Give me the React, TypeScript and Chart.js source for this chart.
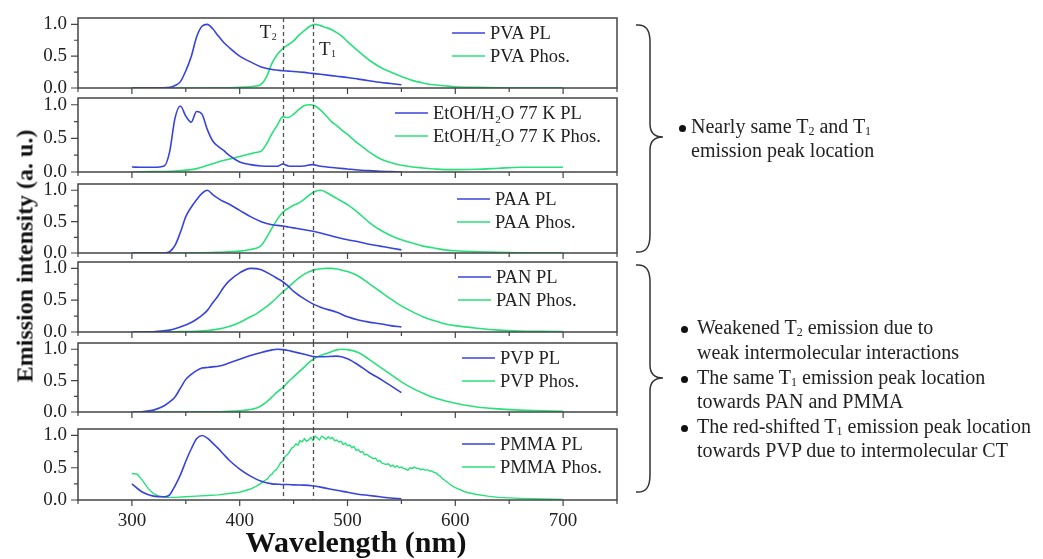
import React, { useEffect, useRef } from "react";
import { Chart, registerables } from "chart.js";
Chart.register(...registerables);

// ---------- data ----------
const PL_WL = [300, 310, 320, 330, 335, 340, 345, 350, 355, 360, 365, 370, 375, 380, 385, 390, 400, 410, 420, 430, 435, 440, 445, 450, 460, 467, 475, 490, 500, 510, 520, 530, 540, 550];
const PH_WL = [300, 320, 340, 360, 380, 390, 400, 410, 415, 420, 425, 430, 435, 440, 445, 450, 455, 460, 465, 470, 475, 480, 485, 490, 495, 500, 510, 520, 530, 540, 550, 560, 570, 580, 590, 600, 620, 640, 660, 680, 700];
const PMMA_PH_WL = [300, 305, 310, 315, 320, 325, 330, 340, 350, 360, 370, 380, 390, 400, 410, 416,
  420, 422, 424, 426, 428, 430, 432, 434, 436, 438, 440, 442, 444, 446, 448, 450, 452, 454, 456, 458,
  460, 462, 464, 466, 468, 470, 472, 474, 476, 478, 480, 482, 484, 486, 488, 490, 492, 494, 496, 498,
  500, 502, 504, 506, 508, 510, 512, 514, 516, 518, 520, 522, 524, 526, 528, 530, 532, 534, 536, 538,
  540, 542, 544, 546, 548, 550, 552, 554, 556, 558, 560, 562, 564, 566, 568, 570, 572, 574, 576, 578,
  580, 582, 584, 586, 588, 590, 592, 594, 596, 598, 600, 610, 620, 630, 640, 660, 680, 700];

const PVA_PL = [0, 0, 0, 0.005, 0.01, 0.04, 0.1, 0.27, 0.49, 0.8, 0.97, 1.0, 0.93, 0.82, 0.72, 0.64, 0.5, 0.41, 0.33, 0.29, 0.28, 0.27, 0.265, 0.26, 0.245, 0.23, 0.215, 0.185, 0.165, 0.14, 0.115, 0.09, 0.07, 0.05];
const PVA_PH = [0, 0, 0, 0, 0.003, 0.005, 0.01, 0.02, 0.03, 0.06, 0.18, 0.39, 0.53, 0.62, 0.68, 0.74, 0.83, 0.9, 0.97, 1.0, 0.98, 0.95, 0.92, 0.87, 0.81, 0.73, 0.58, 0.44, 0.33, 0.25, 0.18, 0.12, 0.08, 0.05, 0.035, 0.02, 0.01, 0.005, 0.003, 0.002, 0.002];

const ETOH_PL = [0.075, 0.07, 0.07, 0.09, 0.3, 0.8, 0.98, 0.83, 0.74, 0.9, 0.86, 0.63, 0.46, 0.38, 0.32, 0.25, 0.15, 0.11, 0.09, 0.085, 0.085, 0.12, 0.09, 0.085, 0.09, 0.11, 0.085, 0.06, 0.045, 0.03, 0.02, 0.01, 0.005, 0];
const ETOH_PH = [0, 0.005, 0.015, 0.05, 0.15, 0.19, 0.23, 0.27, 0.29, 0.31, 0.42, 0.57, 0.7, 0.82, 0.81, 0.86, 0.93, 0.99, 1.0, 0.98, 0.92, 0.84, 0.75, 0.69, 0.62, 0.56, 0.42, 0.3, 0.2, 0.14, 0.1, 0.075, 0.06, 0.045, 0.035, 0.035, 0.04, 0.055, 0.07, 0.07, 0.07];

const PAA_PL = [0, 0, 0, 0, 0.02, 0.12, 0.33, 0.58, 0.73, 0.85, 0.95, 1.0, 0.93, 0.87, 0.82, 0.78, 0.68, 0.58, 0.5, 0.45, 0.44, 0.43, 0.415, 0.4, 0.37, 0.35, 0.32, 0.25, 0.21, 0.18, 0.14, 0.11, 0.08, 0.05];
const PAA_PH = [0, 0, 0, 0.003, 0.01, 0.02, 0.03, 0.055, 0.075, 0.12, 0.25, 0.4, 0.54, 0.65, 0.71, 0.76, 0.8, 0.86, 0.93, 0.98, 1.0, 0.97, 0.92, 0.87, 0.82, 0.77, 0.64, 0.49, 0.37, 0.28, 0.21, 0.16, 0.11, 0.08, 0.05, 0.035, 0.02, 0.01, 0.005, 0.003, 0.003];

const PAN_PL = [0, 0, 0.005, 0.02, 0.03, 0.05, 0.08, 0.11, 0.15, 0.2, 0.26, 0.34, 0.46, 0.57, 0.7, 0.8, 0.93, 1.0, 0.98, 0.89, 0.84, 0.79, 0.72, 0.64, 0.52, 0.45, 0.39, 0.31, 0.24, 0.19, 0.155, 0.13, 0.1, 0.08];
const PAN_PH = [0, 0.002, 0.005, 0.01, 0.045, 0.085, 0.15, 0.24, 0.28, 0.34, 0.4, 0.47, 0.55, 0.63, 0.7, 0.78, 0.85, 0.91, 0.95, 0.98, 0.995, 1.0, 1.0, 0.99, 0.97, 0.95, 0.88, 0.76, 0.64, 0.52, 0.41, 0.32, 0.24, 0.18, 0.13, 0.1, 0.06, 0.03, 0.015, 0.01, 0.008];

const PVP_PL = [0, 0.005, 0.03, 0.1, 0.16, 0.24, 0.38, 0.52, 0.6, 0.66, 0.7, 0.71, 0.72, 0.73, 0.75, 0.78, 0.84, 0.9, 0.95, 0.99, 1.0, 0.995, 0.98, 0.96, 0.92, 0.89, 0.88, 0.89, 0.85, 0.75, 0.63, 0.53, 0.42, 0.31];
const PVP_PH = [0, 0, 0, 0.002, 0.005, 0.01, 0.02, 0.04, 0.06, 0.1, 0.16, 0.24, 0.32, 0.39, 0.48, 0.56, 0.64, 0.72, 0.8, 0.86, 0.9, 0.93, 0.96, 0.99, 1.0, 0.995, 0.95, 0.84, 0.72, 0.6, 0.48, 0.38, 0.3, 0.23, 0.18, 0.14, 0.08, 0.05, 0.03, 0.02, 0.01];

const PMMA_PL = [0.25, 0.12, 0.06, 0.05, 0.08, 0.22, 0.39, 0.6, 0.79, 0.95, 1.0, 0.96, 0.88, 0.8, 0.71, 0.62, 0.48, 0.37, 0.29, 0.25, 0.245, 0.24, 0.24, 0.235, 0.23, 0.22, 0.2, 0.15, 0.12, 0.09, 0.07, 0.05, 0.03, 0.02];
const PMMA_PH = [0.41, 0.4, 0.3, 0.18, 0.1, 0.06, 0.04, 0.04, 0.05, 0.06, 0.07, 0.08, 0.1, 0.12, 0.17, 0.22,
  0.26, 0.29, 0.31, 0.33, 0.38, 0.4, 0.45, 0.47, 0.52, 0.58, 0.6, 0.67, 0.7, 0.74, 0.8, 0.82, 0.87, 0.85, 0.92, 0.9,
  0.95, 0.91, 0.93, 0.97, 0.92, 0.99, 0.96, 0.93, 0.99, 0.97, 0.94, 0.98, 0.95, 0.97, 0.92, 0.93, 0.9, 0.91, 0.86, 0.88,
  0.84, 0.85, 0.81, 0.83, 0.77, 0.78, 0.74, 0.75, 0.7, 0.71, 0.68, 0.66, 0.64, 0.65, 0.6, 0.61, 0.57, 0.56, 0.55, 0.56,
  0.52, 0.54, 0.51, 0.53, 0.5, 0.51, 0.49, 0.48, 0.46, 0.5, 0.49, 0.51, 0.49, 0.49, 0.47, 0.48, 0.46, 0.47, 0.45, 0.45,
  0.43, 0.42, 0.39, 0.37, 0.33, 0.31, 0.28, 0.26, 0.23, 0.21, 0.19, 0.12, 0.085, 0.06, 0.04, 0.025, 0.015, 0.01];

const SAMPLE_NAMES = ["PVA", "EtOH/H\u2082O 77 K", "PAA", "PAN", "PVP", "PMMA"];
const PL_SERIES = [PVA_PL, ETOH_PL, PAA_PL, PAN_PL, PVP_PL, PMMA_PL];
const PH_SERIES = [PVA_PH, ETOH_PH, PAA_PH, PAN_PH, PVP_PH, PMMA_PH];
const PH_GRIDS = [PH_WL, PH_WL, PH_WL, PH_WL, PH_WL, PMMA_PH_WL];

const X_TICKS = [300, 400, 500, 600, 700];
const X_MINOR = [250, 350, 450, 550, 650, 750];
const Y_TICKS = [0, 0.5, 1.0];
const Y_MINOR = [0.25, 0.75];
const T2_WL = 440;
const T1_WL = 468;

// ---------- layout / style ----------
const PANEL_TOP = [18, 98, 184, 262, 343, 429];
const PANEL_BOTTOM = [88, 172, 253, 332, 412, 500];
const LEGEND_X = [452, 395, 457, 458, 462, 462];
const FRAME_LEFT = 78;
const FRAME_RIGHT = 617;
const MARGIN = 22;
const BLUE = "#3843dc";
const GREEN = "#2ae07a";
const FONT = '"Liberation Serif", "Times New Roman", serif';

const framePlugin = {
  id: "frame",
  afterDatasetsDraw(chart: any, _args: any, opts: any) {
    const { ctx, chartArea: a, scales } = chart;
    const x = scales.x;
    const y = scales.y;
    ctx.save();
    // dashed guide lines
    ctx.strokeStyle = "#505050";
    ctx.lineWidth = 1.3;
    ctx.setLineDash([4, 3]);
    for (const w of [T2_WL, T1_WL]) {
      const px = Math.round(x.getPixelForValue(w)) + 0.5;
      ctx.beginPath();
      ctx.moveTo(px, a.top);
      ctx.lineTo(px, a.bottom + opts.gapBelow);
      ctx.stroke();
    }
    ctx.setLineDash([]);
    // frame
    ctx.strokeStyle = "#444";
    ctx.lineWidth = 1.5;
    ctx.strokeRect(a.left, a.top, a.right - a.left, a.bottom - a.top);
    // ticks
    ctx.lineWidth = 1.2;
    ctx.beginPath();
    for (const v of X_TICKS) {
      const px = x.getPixelForValue(v);
      ctx.moveTo(px, a.bottom);
      ctx.lineTo(px, a.bottom + 6);
    }
    for (const v of X_MINOR) {
      const px = x.getPixelForValue(v);
      ctx.moveTo(px, a.bottom);
      ctx.lineTo(px, a.bottom + 4);
    }
    for (const v of Y_TICKS) {
      const py = y.getPixelForValue(v);
      ctx.moveTo(a.left, py);
      ctx.lineTo(a.left - 7, py);
    }
    for (const v of Y_MINOR) {
      const py = y.getPixelForValue(v);
      ctx.moveTo(a.left, py);
      ctx.lineTo(a.left - 4, py);
    }
    ctx.stroke();
    // legend
    ctx.font = `18.5px ${FONT}`;
    ctx.textBaseline = "middle";
    ctx.textAlign = "left";
    chart.data.datasets.forEach((ds: any, i: number) => {
      const ly = a.top + 15 + i * 23;
      ctx.strokeStyle = ds.borderColor;
      ctx.lineWidth = 1.6;
      ctx.beginPath();
      ctx.moveTo(opts.legendX, ly);
      ctx.lineTo(opts.legendX + 33, ly);
      ctx.stroke();
      ctx.fillStyle = "#222";
      ctx.fillText(ds.label, opts.legendX + 38, ly + 1);
    });
    // T labels
    if (opts.tLabels) {
      const x2 = x.getPixelForValue(T2_WL);
      const x1 = x.getPixelForValue(T1_WL);
      ctx.fillStyle = "#222";
      ctx.font = `19px ${FONT}`;
      ctx.textAlign = "left";
      ctx.fillText("T", x2 - 23, a.top + 15);
      ctx.fillText("T", x1 + 6, a.top + 32);
      ctx.font = `10px ${FONT}`;
      ctx.fillText("2", x2 - 11, a.top + 19);
      ctx.fillText("1", x1 + 18, a.top + 36);
    }
    ctx.restore();
  },
};

function Panel({ idx }: { idx: number }) {
  const ref = useRef<HTMLCanvasElement | null>(null);
  const last = idx === 5;
  const top = PANEL_TOP[idx] - MARGIN;
  const bottomSpace = last ? 30 : MARGIN;
  const height = PANEL_BOTTOM[idx] - PANEL_TOP[idx] + MARGIN + bottomSpace;
  const width = FRAME_RIGHT + 10;
  useEffect(() => {
    if (!ref.current) return;
    const name = SAMPLE_NAMES[idx];
    const plData = PL_WL.map((w, i) => ({ x: w, y: PL_SERIES[idx][i] }));
    const phData = PH_GRIDS[idx].map((w, i) => ({ x: w, y: PH_SERIES[idx][i] }));
    const gapBelow = last ? 0 : PANEL_TOP[idx + 1] - PANEL_BOTTOM[idx];
    const chart = new Chart(ref.current, {
      type: "line",
      data: {
        datasets: [
          {
            label: `${name} PL`,
            data: plData,
            borderColor: BLUE,
            borderWidth: 1.6,
            pointRadius: 0,
            cubicInterpolationMode: "monotone",
            fill: false,
          },
          {
            label: `${name} Phos.`,
            data: phData,
            borderColor: GREEN,
            borderWidth: idx === 5 ? 1.4 : 1.6,
            pointRadius: 0,
            tension: idx === 5 ? 0 : 0.4,
            cubicInterpolationMode: idx === 5 ? "default" : "monotone",
            fill: false,
          },
        ],
      },
      options: {
        animation: false,
        responsive: false,
        maintainAspectRatio: false,
        events: [],
        layout: { padding: { top: MARGIN, left: 0, right: width - FRAME_RIGHT, bottom: 0 } },
        plugins: {
          legend: { display: false },
          tooltip: { enabled: false },
          frame: { gapBelow, legendX: LEGEND_X[idx], tLabels: idx === 0 },
        } as any,
        scales: {
          x: {
            type: "linear",
            min: 250,
            max: 750,
            grid: { display: false, drawTicks: false },
            border: { display: false },
            afterBuildTicks: (s: any) => {
              s.ticks = X_TICKS.map((v) => ({ value: v }));
            },
            afterFit: (s: any) => {
              s.height = bottomSpace;
              s.paddingLeft = 0;
              s.paddingRight = 0;
            },
            ticks: {
              display: last,
              padding: 10,
              maxRotation: 0,
              autoSkip: false,
              color: "#222",
              font: { family: FONT, size: 19 },
            },
          },
          y: {
            type: "linear",
            min: 0,
            max: 1.1,
            grid: { display: false, drawTicks: false },
            border: { display: false },
            afterBuildTicks: (s: any) => {
              s.ticks = Y_TICKS.map((v) => ({ value: v }));
            },
            afterFit: (s: any) => {
              s.width = FRAME_LEFT;
              s.paddingTop = 0;
              s.paddingBottom = 0;
            },
            ticks: {
              padding: 11,
              color: "#222",
              font: { family: FONT, size: 19 },
              callback: (v: any) => Number(v).toFixed(1),
            },
          },
        },
      },
      plugins: [framePlugin],
    } as any);
    return () => chart.destroy();
  }, [idx]);
  return (
    <canvas
      ref={ref}
      width={width}
      height={height}
      style={{ position: "absolute", left: 0, top, width, height }}
    />
  );
}

function Bullet({ x, y }: { x: number; y: number }) {
  return (
    <div
      style={{
        position: "absolute",
        left: x - 3.5,
        top: y - 3.5,
        width: 7,
        height: 7,
        borderRadius: "50%",
        background: "#111",
      }}
    />
  );
}

function Sub({ c }: { c: string }) {
  return <span style={{ fontSize: 12, position: "relative", top: 2 }}>{c}</span>;
}

function Line({ x, y, children }: { x: number; y: number; children: React.ReactNode }) {
  return (
    <div
      style={{
        position: "absolute",
        left: x,
        top: y,
        transform: "translateY(-50%)",
        font: `20px ${FONT}`,
        lineHeight: "22px",
        color: "#222",
        whiteSpace: "nowrap",
      }}
    >
      {children}
    </div>
  );
}

export default function App() {
  return (
    <div style={{ position: "absolute", left: 0, top: 0, width: 1043, height: 559, background: "#fff", overflow: "hidden" }}>
      {[0, 1, 2, 3, 4, 5].map((i) => (
        <Panel key={i} idx={i} />
      ))}
      <div
        style={{
          position: "absolute",
          left: 25,
          top: 256,
          transform: "translate(-50%, -50%) rotate(-90deg)",
          font: `bold 24px ${FONT}`,
          color: "#111",
          whiteSpace: "nowrap",
        }}
      >
        Emission intensity (a. u.)
      </div>
      <div
        style={{
          position: "absolute",
          left: 356,
          top: 542,
          transform: "translate(-50%, -50%)",
          font: `bold 30px ${FONT}`,
          color: "#111",
          whiteSpace: "nowrap",
        }}
      >
        Wavelength (nm)
      </div>
      <svg width={1043} height={559} style={{ position: "absolute", left: 0, top: 0 }}>
        <path
          d="M 636 25 C 646 24, 650 30, 650 42 L 650 124 C 650 133, 654 137, 663 137 C 654 137, 650 141, 650 150 L 650 235 C 650 247, 646 253, 636 252"
          fill="none"
          stroke="#333"
          strokeWidth={1.5}
        />
        <path
          d="M 636 265 C 646 264, 650 270, 650 282 L 650 365 C 650 374, 654 378, 663 378 C 654 378, 650 382, 650 391 L 650 475 C 650 487, 646 493, 636 492"
          fill="none"
          stroke="#333"
          strokeWidth={1.5}
        />
      </svg>
      <Bullet x={682} y={128} />
      <Line x={691} y={127}>
        Nearly same T<Sub c="2" /> and T<Sub c="1" />
      </Line>
      <Line x={691} y={150}>emission peak location</Line>
      <Bullet x={684} y={329} />
      <Bullet x={684} y={379} />
      <Bullet x={684} y={428} />
      <Line x={697} y={328}>
        Weakened T<Sub c="2" /> emission due to
      </Line>
      <Line x={697} y={352}>weak intermolecular interactions</Line>
      <Line x={697} y={378}>
        The same T<Sub c="1" /> emission peak location
      </Line>
      <Line x={697} y={401}>towards PAN and PMMA</Line>
      <Line x={697} y={427}>
        The red-shifted T<Sub c="1" /> emission peak location
      </Line>
      <Line x={697} y={450}>towards PVP due to intermolecular CT</Line>
    </div>
  );
}
